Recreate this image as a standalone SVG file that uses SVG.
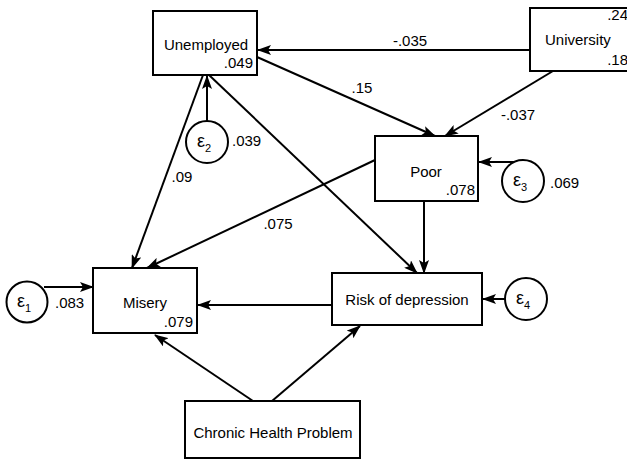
<svg xmlns="http://www.w3.org/2000/svg" width="627" height="460" viewBox="0 0 627 460">
<style>
.box{fill:#fff;stroke:#000;stroke-width:2}
.err{fill:#fff;stroke:#000;stroke-width:2}
.t{font-family:"Liberation Sans",Arial,sans-serif;font-size:15px;fill:#000}
.eps{font-family:"Liberation Sans",Arial,sans-serif;font-size:18px;fill:#000}
.sub{font-size:11px}
.m{text-anchor:middle}
.e{text-anchor:end}
.c{stroke:#000;stroke-width:2;fill:none;marker-end:url(#ah)}
</style>
<defs>
<marker id="ah" markerUnits="userSpaceOnUse" markerWidth="14" markerHeight="10" viewBox="0 0 14 10" refX="13" refY="5" orient="auto">
<path d="M0,0 L14,5 L0,10 L3,5 Z" fill="#000"/>
</marker>
</defs>
<rect width="627" height="460" fill="#fff"/>
<g id="connectors">
<line class="c" x1="530" y1="50" x2="258" y2="50"/>
<line class="c" x1="257" y1="57" x2="435" y2="136"/>
<line class="c" x1="553" y1="71" x2="445" y2="136"/>
<line class="c" x1="207" y1="121" x2="207" y2="76"/>
<line class="c" x1="203" y1="75" x2="132" y2="268"/>
<line class="c" x1="209" y1="75" x2="417" y2="273"/>
<line class="c" x1="375" y1="160" x2="147" y2="268"/>
<line class="c" x1="514" y1="162" x2="479" y2="162"/>
<line class="c" x1="424" y1="201" x2="424" y2="273"/>
<line class="c" x1="44" y1="287" x2="93" y2="287"/>
<line class="c" x1="332" y1="305" x2="198" y2="305"/>
<line class="c" x1="505" y1="299" x2="483" y2="299"/>
<line class="c" x1="253" y1="401" x2="155" y2="335"/>
<line class="c" x1="272" y1="401" x2="360" y2="326"/>
<text class="t m" x="410" y="46">-.035</text>
<text class="t m" x="362" y="93">.15</text>
<text class="t m" x="518" y="120">-.037</text>
<text class="t m" x="182" y="182">.09</text>
<text class="t m" x="278" y="229">.075</text>
</g>
<g id="unemployed">
<rect class="box" x="153" y="11" width="104" height="64"/>
<text class="t m" x="206" y="50">Unemployed</text>
<text class="t e" x="253" y="68">.049</text>
</g>
<g id="university">
<rect class="box" x="530" y="8" width="110" height="63"/>
<text class="t e" x="628" y="20">.24</text>
<text class="t" x="545" y="45">University</text>
<text class="t e" x="628" y="65">.18</text>
</g>
<g id="poor">
<rect class="box" x="375" y="136" width="103" height="65"/>
<text class="t m" x="426" y="177">Poor</text>
<text class="t e" x="475" y="195">.078</text>
</g>
<g id="misery">
<rect class="box" x="93" y="268" width="104" height="65"/>
<text class="t m" x="145" y="308">Misery</text>
<text class="t e" x="193" y="327">.079</text>
</g>
<g id="risk">
<rect class="box" x="332" y="273" width="150" height="52"/>
<text class="t m" x="407" y="305">Risk of depression</text>
</g>
<g id="chronic">
<rect class="box" x="185" y="401" width="175" height="57"/>
<text class="t m" x="273" y="438">Chronic Health Problem</text>
</g>
<g id="e1">
<circle class="err" cx="27" cy="302" r="20.5"/>
<text class="eps" x="17" y="307">ε<tspan class="sub" dy="5">1</tspan></text>
<text class="t" x="55" y="308">.083</text>
</g>
<g id="e2">
<circle class="err" cx="207" cy="142" r="21"/>
<text class="eps" x="197" y="147">ε<tspan class="sub" dy="5">2</tspan></text>
<text class="t" x="232" y="146">.039</text>
</g>
<g id="e3">
<circle class="err" cx="523" cy="181" r="21"/>
<text class="eps" x="513" y="186">ε<tspan class="sub" dy="5">3</tspan></text>
<text class="t" x="550" y="188">.069</text>
</g>
<g id="e4">
<circle class="err" cx="526" cy="299" r="21"/>
<text class="eps" x="516" y="304">ε<tspan class="sub" dy="5">4</tspan></text>
</g>
</svg>
